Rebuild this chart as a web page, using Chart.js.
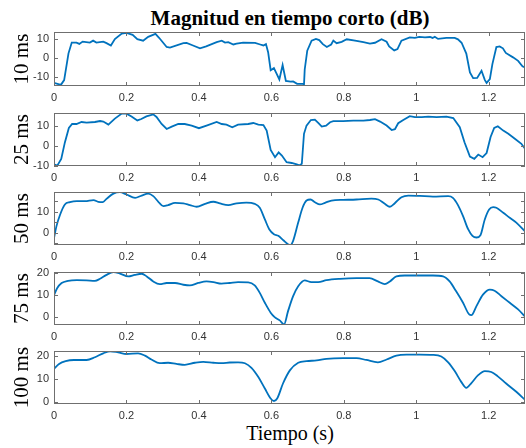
<!DOCTYPE html>
<html>
<head>
<meta charset="utf-8">
<script src="https://cdn.jsdelivr.net/npm/chart.js@4/dist/chart.umd.min.js"></script>
<style>
  body { margin: 0; width: 526px; height: 448px; background: #fff; position: relative; overflow: hidden; font-family: "Liberation Serif", serif; }
  .panel { position: absolute; left: 0; width: 526px; }
  #titulo { position: absolute; top: 6px; left: 54px; width: 472px; text-align: center; font-weight: bold; font-size: 21px; color: #000; }
  #xlabel { position: absolute; top: 422px; left: 54px; width: 472px; text-align: center; font-size: 20px; color: #000; }
</style>
</head>
<body>
<div id="titulo">Magnitud en tiempo corto (dB)</div>
<div id="xlabel">Tiempo (s)</div>
<script>
// ventanas y etiquetas
const ventanas = ['10 ms', '25 ms', '50 ms', '75 ms', '100 ms'];
const xTicks = [0, 0.2, 0.4, 0.6, 0.8, 1, 1.2];
const yTicks = [[-10, 0, 10], [-10, 0, 10], [-5, 0, 5, 10, 15], [0, 10, 20], [0, 10, 20]];
const yLabeled = [[-10, 0, 10], [-10, 0, 10], [0, 10], [0, 10, 20], [0, 10, 20]];
const yMin = [-14.6, -10, -6, -3.6, -1];
const yMax = [13.5, 16.5, 19.5, 20.5, 22];

// 10 ms
const t10 = [0,0.019,0.028,0.04,0.049,0.062,0.07,0.079,0.099,0.108,0.117,0.136,0.145,0.157,0.168,0.187,0.2,0.217,0.23,0.246,0.26,0.28,0.29,0.311,0.32,0.357,0.366,0.382,0.403,0.42,0.449,0.463,0.472,0.481,0.495,0.504,0.522,0.555,0.569,0.578,0.585,0.591,0.598,0.607,0.614,0.622,0.631,0.64,0.653,0.66,0.671,0.688,0.69,0.692,0.699,0.711,0.723,0.732,0.742,0.753,0.765,0.771,0.78,0.794,0.808,0.831,0.854,0.872,0.886,0.904,0.918,0.925,0.939,0.948,0.959,0.982,0.996,1.008,1.024,1.038,1.045,1.051,1.06,1.083,1.106,1.115,1.125,1.138,1.148,1.157,1.168,1.18,1.189,1.194,1.203,1.21,1.221,1.23,1.239,1.247,1.267,1.281,1.293,1.3];
const db10 = [-13,-14,-11.5,2.4,8,8,7.3,8.5,8,9,8,8.5,7.7,6.5,9.8,12.7,13,12,9.8,9,11,12.5,10.5,5.7,5.4,7.7,7.8,6.6,5,6,8.2,9,8,8.2,7,7.4,8,7.8,7,6.5,7.2,3,-6.4,-5.3,-8,-11.2,-3.7,-12,-12.3,-12.2,-13.5,-13.5,-14,-6,3.8,9,9.9,9.3,7.2,5.7,7,9,7.7,8.4,9.7,9,8.2,7.5,7.9,9.7,8.4,6,3.9,4.6,9,10.7,10.4,11,10.7,10.9,10.4,11,9.9,10.4,10.4,9.7,7.9,2.3,-7.5,-10.5,-10.4,-6.7,-11.4,-13,-11,-3.2,5.7,6,5,2.6,0.3,-1.5,-4.3,-5];

// 25 ms
const t25 = [0,0.009,0.02,0.03,0.041,0.05,0.062,0.076,0.09,0.113,0.127,0.136,0.15,0.168,0.187,0.2,0.214,0.23,0.241,0.255,0.274,0.283,0.297,0.311,0.325,0.343,0.361,0.38,0.4,0.421,0.449,0.463,0.476,0.492,0.508,0.536,0.55,0.564,0.578,0.587,0.598,0.61,0.62,0.629,0.642,0.656,0.67,0.677,0.684,0.69,0.697,0.709,0.72,0.73,0.739,0.751,0.762,0.771,0.798,0.826,0.854,0.872,0.886,0.9,0.918,0.932,0.941,0.95,0.964,0.982,0.996,1.015,1.033,1.056,1.083,1.102,1.12,1.133,1.148,1.16,1.171,1.183,1.194,1.205,1.215,1.225,1.24,1.254,1.272,1.29,1.3];
const db25 = [-9.2,-9.8,-6.5,1.8,9,11,11,12,11.7,12,12.5,12.2,10.7,13.7,16.2,16.2,14.8,12.8,13.5,14.8,15.8,14.5,11,8.5,9.7,11,11,10.2,8.9,10.2,12,11,10.7,9.4,10.7,11,11.5,10.7,10.5,7.7,-2,-5.6,-3.2,-4.8,-8.1,-8.5,-9.2,-9.7,-8.9,6.1,10.2,13,13.2,11.4,9.7,10.2,11.9,12.4,12.4,12.7,12.7,13,13.4,12.2,10.2,8,8.4,11.4,13,14.9,14.4,14.4,14.7,14.4,14.7,14,9.4,1.9,-5.3,-6.4,-4.3,-5.6,-3.5,4.5,9,9.9,7.7,6.1,3.6,1.1,-1.4];

// 50 ms
const t50 = [0,0.007,0.017,0.03,0.044,0.063,0.086,0.109,0.122,0.134,0.145,0.164,0.182,0.2,0.224,0.242,0.26,0.274,0.288,0.302,0.315,0.334,0.357,0.375,0.394,0.417,0.44,0.458,0.481,0.504,0.531,0.554,0.568,0.582,0.594,0.607,0.619,0.633,0.646,0.653,0.66,0.674,0.686,0.697,0.708,0.72,0.734,0.748,0.766,0.798,0.835,0.876,0.895,0.913,0.927,0.94,0.959,0.978,1.01,1.046,1.088,1.101,1.115,1.129,1.143,1.155,1.166,1.177,1.189,1.201,1.212,1.221,1.24,1.258,1.276,1.3];
const db50 = [-2.7,3.2,8.7,13.5,14.6,15.1,15.1,15.6,14.8,14.6,16.2,18.7,19.4,18.3,16.7,17.8,18.7,17.5,14.8,12.7,13.2,14.3,14,13.2,12.4,13.8,14.8,14,13.2,14,14.4,13.8,11.9,6.3,1.6,-0.8,-1.6,-3.7,-5.6,-5.9,-4,4.8,11.9,15.4,15.9,14.6,13.5,14.3,15.4,15.7,15.9,16.3,15.9,13.8,12.4,14,17,17.8,17.6,17.3,17.5,16.7,13.2,7.9,1.6,-1.6,-2.4,-1.3,6.3,11.1,12.2,11.9,9.5,7.1,4.8,0.5];

// 75 ms
const t75 = [0,0.009,0.021,0.039,0.063,0.09,0.113,0.127,0.145,0.164,0.182,0.205,0.223,0.242,0.256,0.274,0.292,0.311,0.334,0.357,0.375,0.398,0.421,0.44,0.462,0.485,0.508,0.536,0.554,0.568,0.582,0.598,0.609,0.623,0.635,0.646,0.66,0.674,0.692,0.71,0.729,0.752,0.789,0.835,0.871,0.894,0.913,0.927,0.945,0.968,1.01,1.046,1.074,1.092,1.11,1.129,1.146,1.152,1.166,1.184,1.203,1.216,1.235,1.258,1.281,1.3];
const db75 = [10,13.2,15.5,16.5,16.8,16.7,16.5,17.4,19.2,20.4,19.8,18.5,19.2,19.7,18.5,16.2,15,15.5,15.5,14.7,14.4,15.5,16.2,15.9,15.2,15.5,15.9,15.8,14.4,11,6.5,2,0,-1.5,-3.3,2.7,9.5,14,16.7,15.9,15.9,16.8,17.4,17.7,17.7,16.2,15,16.2,18.5,18.9,18.9,18.9,18.5,16.2,11.7,6.5,1.2,0.9,5,10.2,12.5,12,9.5,6.5,3.5,0.3];

// 100 ms
const t100 = [0,0.014,0.032,0.055,0.09,0.113,0.136,0.155,0.177,0.2,0.232,0.251,0.269,0.292,0.315,0.338,0.361,0.389,0.412,0.44,0.462,0.485,0.508,0.527,0.545,0.564,0.582,0.598,0.607,0.616,0.632,0.651,0.674,0.697,0.725,0.752,0.798,0.835,0.862,0.894,0.918,0.945,0.973,1.01,1.046,1.069,1.088,1.106,1.124,1.138,1.152,1.17,1.189,1.207,1.225,1.248,1.276,1.3];
const db100 = [14.3,16.4,17.6,18.1,18.1,19.3,21,21.9,21.4,20.7,21,20,18.3,16.7,16.9,16.4,16,16.9,17.3,16.9,16.7,17,17.1,16.7,14.7,10.7,5.7,1.4,0.3,1.4,7.9,13.6,16.9,17.6,17.9,18.6,18.9,18.9,18.1,17.1,18.3,20,20.4,20.4,20.3,19.6,17.1,13.3,8.6,6,8.1,11.4,13.3,12.9,11,7.9,4.3,0.8];

const tiempos = [t10, t25, t50, t75, t100];
const magnitudes = [db10, db25, db50, db75, db100];

// posicion de cada eje (px)
const topes = [32, 113, 192, 272, 351];
const altos = [54, 53, 53, 53, 53];
const suave = [false, false, true, true, true];

const colorEje = '#6f6f6f';
const colorTexto = '#333333';

// caja estilo matlab con ticks hacia adentro
const cajaMatlab = {
  id: 'cajaMatlab',
  afterDatasetsDraw(chart) {
    const { ctx, chartArea: a, scales: { x, y } } = chart;
    ctx.save();
    ctx.strokeStyle = colorEje;
    ctx.lineWidth = 1;
    ctx.beginPath();
    x.ticks.forEach(t => {
      const px = Math.round(x.getPixelForValue(t.value)) + 0.5;
      ctx.moveTo(px, a.top); ctx.lineTo(px, a.top + 4);
      ctx.moveTo(px, a.bottom); ctx.lineTo(px, a.bottom - 4);
    });
    y.ticks.forEach(t => {
      const py = Math.round(y.getPixelForValue(t.value)) + 0.5;
      ctx.moveTo(a.left, py); ctx.lineTo(a.left + 4, py);
      ctx.moveTo(a.right, py); ctx.lineTo(a.right - 4, py);
    });
    ctx.stroke();
    ctx.strokeRect(a.left + 0.5, a.top + 0.5, a.right - a.left - 1, a.bottom - a.top - 1);
    ctx.restore();
  }
};

ventanas.forEach((nombre, i) => {
  const div = document.createElement('div');
  div.className = 'panel';
  div.style.top = (topes[i] - 4) + 'px';
  div.style.height = (altos[i] + 24) + 'px';
  const canvas = document.createElement('canvas');
  div.appendChild(canvas);
  document.body.appendChild(div);

  new Chart(canvas.getContext('2d'), {
    type: 'line',
    data: {
      datasets: [{
        data: tiempos[i].map((t, k) => ({ x: t, y: magnitudes[i][k] })),
        borderColor: '#0072BD',
        borderWidth: 1.8,
        pointRadius: 0,
        tension: suave[i] ? 0.4 : 0,
        cubicInterpolationMode: suave[i] ? 'monotone' : 'default'
      }]
    },
    options: {
      responsive: true,
      maintainAspectRatio: false,
      animation: false,
      events: [],
      layout: { padding: { top: 4, right: 1, left: 0, bottom: 0 } },
      plugins: { legend: { display: false }, tooltip: { enabled: false } },
      scales: {
        x: {
          type: 'linear',
          min: 0,
          max: 1.3,
          grid: { display: false, drawTicks: false },
          border: { display: false },
          afterBuildTicks: s => { s.ticks = xTicks.map(v => ({ value: v })); },
          afterFit: s => { s.height = 20; s.paddingLeft = 0; s.paddingRight = 0; },
          ticks: {
            padding: 5,
            maxRotation: 0,
            autoSkip: false,
            color: colorTexto,
            font: { family: '"Liberation Sans", Arial, sans-serif', size: 11 },
            callback: v => String(v)
          }
        },
        y: {
          min: yMin[i],
          max: yMax[i],
          grid: { display: false, drawTicks: false },
          border: { display: false },
          afterBuildTicks: s => { s.ticks = yTicks[i].map(v => ({ value: v })); },
          afterFit: s => { s.width = 54; s.paddingTop = 0; s.paddingBottom = 0; },
          ticks: {
            padding: 5,
            autoSkip: false,
            color: colorTexto,
            font: { family: '"Liberation Sans", Arial, sans-serif', size: 11 },
            callback: v => yLabeled[i].includes(v) ? String(v) : ''
          },
          title: {
            display: true,
            text: nombre,
            color: '#000',
            padding: { top: 12, bottom: 0 },
            font: { family: '"Liberation Serif", "Times New Roman", serif', size: 21, lineHeight: 1 }
          }
        }
      }
    },
    plugins: [cajaMatlab]
  });
});
</script>
</body>
</html>
